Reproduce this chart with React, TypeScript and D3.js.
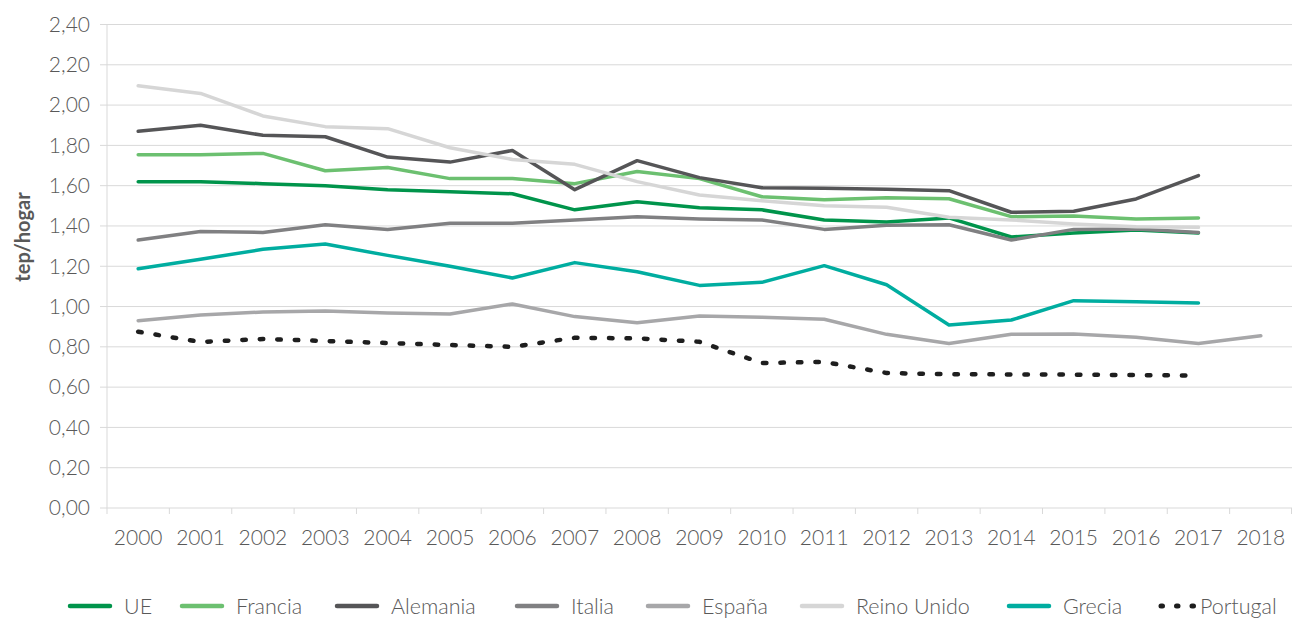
import React from "react";
import * as d3 from "d3";

const years = [2000, 2001, 2002, 2003, 2004, 2005, 2006, 2007, 2008, 2009, 2010, 2011, 2012, 2013, 2014, 2015, 2016, 2017, 2018];
const yTicks = [0, 0.2, 0.4, 0.6, 0.8, 1.0, 1.2, 1.4, 1.6, 1.8, 2.0, 2.2, 2.4];

const ue = [1.62, 1.62, 1.61, 1.6, 1.58, 1.57, 1.56, 1.48, 1.52, 1.49, 1.48, 1.43, 1.42, 1.44, 1.345, 1.365, 1.38, 1.365];
const francia = [1.754, 1.754, 1.76, 1.674, 1.69, 1.635, 1.635, 1.61, 1.67, 1.635, 1.545, 1.53, 1.54, 1.535, 1.446, 1.45, 1.435, 1.44];
const alemania = [1.87, 1.9, 1.85, 1.843, 1.742, 1.717, 1.775, 1.58, 1.724, 1.64, 1.59, 1.587, 1.582, 1.575, 1.468, 1.473, 1.534, 1.65];
const italia = [1.33, 1.372, 1.368, 1.406, 1.382, 1.413, 1.413, 1.43, 1.446, 1.435, 1.43, 1.383, 1.403, 1.406, 1.33, 1.383, 1.385, 1.368];
const espana = [0.93, 0.958, 0.973, 0.978, 0.968, 0.963, 1.013, 0.95, 0.92, 0.953, 0.947, 0.937, 0.862, 0.817, 0.862, 0.864, 0.847, 0.816, 0.855];
const reinoUnido = [2.096, 2.058, 1.946, 1.893, 1.883, 1.788, 1.73, 1.706, 1.62, 1.554, 1.525, 1.5, 1.493, 1.443, 1.43, 1.41, 1.396, 1.393];
const grecia = [1.188, 1.235, 1.284, 1.31, 1.254, 1.2, 1.142, 1.218, 1.173, 1.105, 1.12, 1.203, 1.108, 0.908, 0.933, 1.029, 1.024, 1.018];
const portugal = [0.875, 0.824, 0.839, 0.829, 0.819, 0.809, 0.8, 0.845, 0.842, 0.825, 0.72, 0.725, 0.67, 0.664, 0.663, 0.662, 0.66, 0.657];

const seriesNames = ["UE", "Francia", "Alemania", "Italia", "España", "Reino Unido", "Grecia", "Portugal"];
const seriesValues = [ue, francia, alemania, italia, espana, reinoUnido, grecia, portugal];
const seriesColors = ["#00944b", "#6cc070", "#555557", "#808082", "#a7a7a9", "#d6d6d6", "#00ada0", "#1e1e1e"];

const W = 1292;
const H = 619;
const left = 107;
const right = 1292;
const top = 24.5;
const bottom = 508;
const font = "Lato, 'Open Sans', sans-serif";
const textColor = "#595959";
const legendStarts = [68, 180, 335, 515, 646, 800, 1007, 1159];

export default function App() {
  const x = d3.scaleBand<number>().domain(years).range([left, right]).paddingInner(0).paddingOuter(0);
  const y = d3.scaleLinear().domain([0, 2.4]).range([bottom, top]);
  const bw = x.bandwidth();
  const fmt = (v: number) => v.toFixed(2).replace(".", ",");
  const line = d3
    .line<number>()
    .x((_, i) => (x(years[i]) as number) + bw / 2)
    .y((d) => y(d));

  return (
    <div style={{ position: "absolute", left: 0, top: 0 }}>
      <svg width={W} height={H} style={{ display: "block" }}>
        <rect x={0} y={0} width={W} height={H} fill="#fff" />
        {yTicks.map((t) => (
          <g key={t}>
            <line x1={left - 7} x2={right} y1={y(t)} y2={y(t)} stroke="#d9d9d9" strokeWidth={1} />
            <text x={90} y={y(t)} dy="0.35em" textAnchor="end" fontFamily={font} fontWeight={300} fontSize={21} fill={textColor}>
              {fmt(t)}
            </text>
          </g>
        ))}
        <line x1={left} x2={left} y1={top} y2={bottom} stroke="#d9d9d9" strokeWidth={1} />
        {years.map((yr) => (
          <line key={"t" + yr} x1={x(yr)} x2={x(yr)} y1={bottom} y2={bottom + 6} stroke="#d9d9d9" strokeWidth={1} />
        ))}
        <line x1={right - 0.5} x2={right - 0.5} y1={bottom} y2={bottom + 6} stroke="#d9d9d9" strokeWidth={1} />
        {years.map((yr) => (
          <text key={"l" + yr} x={(x(yr) as number) + bw / 2} y={538} dy="0.35em" textAnchor="middle" fontFamily={font} fontWeight={300} fontSize={21} fill={textColor}>
            {yr}
          </text>
        ))}
        <text
          transform={`translate(23,237) rotate(-90)`}
          textAnchor="middle"
          dy="0.35em"
          fontFamily={font}
          fontWeight={700}
          fontSize={20}
          fill={textColor}
        >
          tep/hogar
        </text>
        {seriesValues.map((vals, i) => (
          <path
            key={seriesNames[i]}
            d={line(vals) || ""}
            fill="none"
            stroke={seriesColors[i]}
            strokeWidth={i === 7 ? 4.5 : 3.5}
            strokeLinejoin="round"
            strokeLinecap="round"
            strokeDasharray={i === 7 ? "3.5 14" : undefined}
          />
        ))}
        {seriesNames.map((name, i) => {
          const sx = legendStarts[i];
          const isDot = i === 7;
          return (
            <g key={"lg" + name}>
              <line
                x1={sx + 2}
                x2={sx + (isDot ? 35 : 42)}
                y1={606}
                y2={606}
                stroke={seriesColors[i]}
                strokeWidth={isDot ? 5 : 4.5}
                strokeLinecap="round"
                strokeDasharray={isDot ? "1.5 14" : undefined}
              />
              <text x={sx + (isDot ? 41 : 56)} y={606} dy="0.35em" fontFamily={font} fontWeight={300} fontSize={21.5} fill={textColor}>
                {name}
              </text>
            </g>
          );
        })}
      </svg>
    </div>
  );
}
